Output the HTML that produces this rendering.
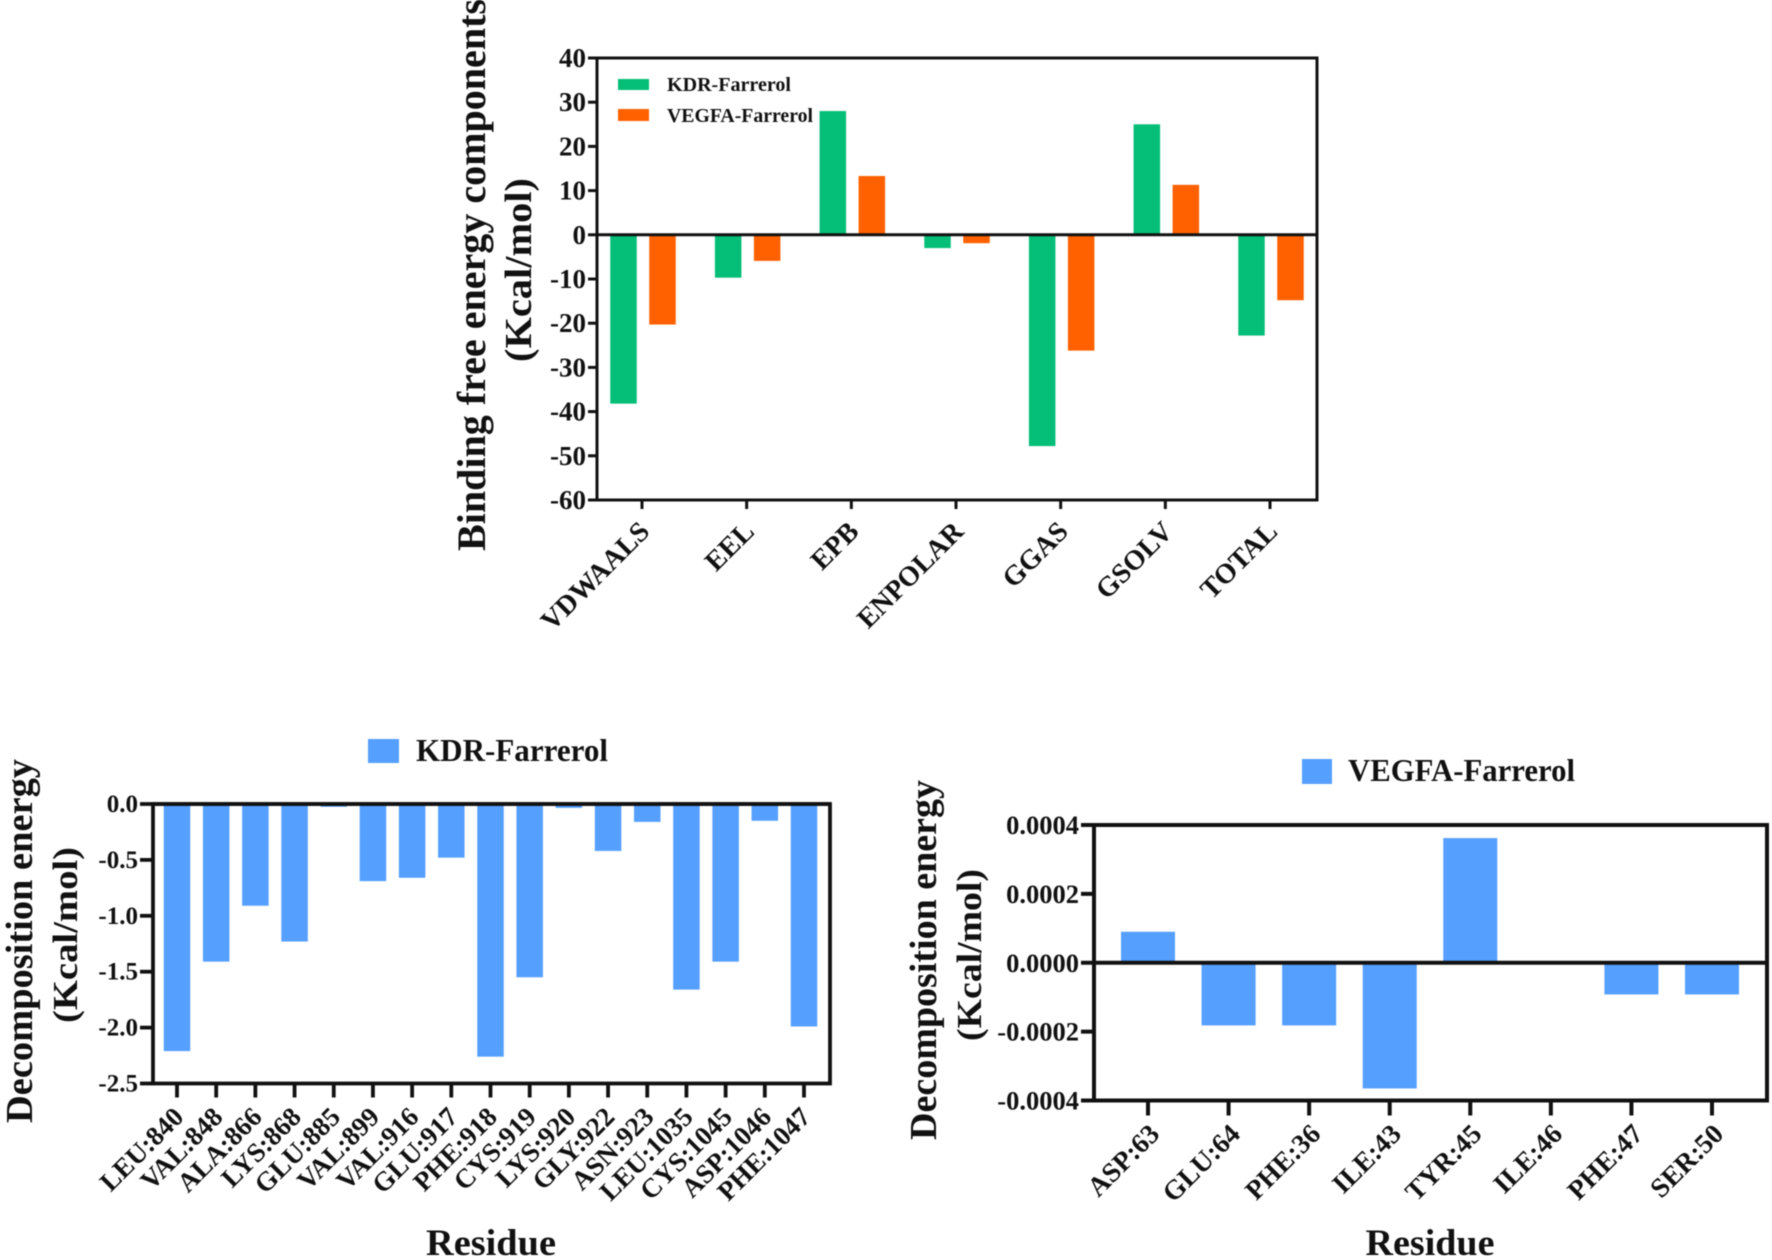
<!DOCTYPE html>
<html lang="en">
<head>
<meta charset="utf-8">
<title>Binding free energy and decomposition energy charts</title>
<style>
html,body{margin:0;padding:0;background:#fff;}
svg{display:block;font-family:"Liberation Serif",serif;font-weight:bold;fill:#111;filter:blur(0.5px);}
</style>
</head>
<body>
<svg id="figure" xmlns="http://www.w3.org/2000/svg" width="1772" height="1260" viewBox="0 0 1772 1260">
  <rect x="0" y="0" width="1772" height="1260" fill="#fff"/>

  <g id="top-chart"></g>
  <g id="kdr-chart"></g>
  <g id="vegfa-chart"></g>

  <text transform="translate(485,275) rotate(-90)" text-anchor="middle" font-size="40" textLength="552" lengthAdjust="spacingAndGlyphs">Binding free energy components</text>
  <text transform="translate(531,270) rotate(-90)" text-anchor="middle" font-size="38" textLength="184" lengthAdjust="spacingAndGlyphs">(Kcal/mol)</text>
  <rect x="618" y="79" width="31" height="11" fill="#05BE78"/>
  <text x="667" y="91" font-size="19.5" textLength="124" lengthAdjust="spacingAndGlyphs">KDR-Farrerol</text>
  <rect x="618" y="109" width="31" height="12" fill="#FF6100"/>
  <text x="667" y="122" font-size="19.5" textLength="146" lengthAdjust="spacingAndGlyphs">VEGFA-Farrerol</text>

  <text transform="translate(32,941) rotate(-90)" text-anchor="middle" font-size="38" textLength="364" lengthAdjust="spacingAndGlyphs">Decomposition energy</text>
  <text transform="translate(77,935) rotate(-90)" text-anchor="middle" font-size="35" textLength="176" lengthAdjust="spacingAndGlyphs">(Kcal/mol)</text>
  <rect x="368" y="739" width="31" height="24" fill="#559FFF"/>
  <text x="416" y="761" font-size="32" textLength="192" lengthAdjust="spacingAndGlyphs">KDR-Farrerol</text>
  <text x="491" y="1255" text-anchor="middle" font-size="37" textLength="130" lengthAdjust="spacingAndGlyphs">Residue</text>

  <text transform="translate(936,960) rotate(-90)" text-anchor="middle" font-size="38" textLength="360" lengthAdjust="spacingAndGlyphs">Decomposition energy</text>
  <text transform="translate(981,955) rotate(-90)" text-anchor="middle" font-size="35" textLength="172" lengthAdjust="spacingAndGlyphs">(Kcal/mol)</text>
  <rect x="1302" y="759" width="30" height="25" fill="#559FFF"/>
  <text x="1348" y="781" font-size="32" textLength="227" lengthAdjust="spacingAndGlyphs">VEGFA-Farrerol</text>
  <text x="1430" y="1255" text-anchor="middle" font-size="37" textLength="129" lengthAdjust="spacingAndGlyphs">Residue</text>
</svg>

<script>
const bindingCategories = ["VDWAALS","EEL","EPB","ENPOLAR","GGAS","GSOLV","TOTAL"];
const bindingKdrValues = [-38.2,-9.7,28,-3,-47.8,25,-22.8];
const bindingVegfaValues = [-20.3,-5.9,13.3,-1.9,-26.2,11.3,-14.8];
const bindingYTicks = ["40","30","20","10","0","-10","-20","-30","-40","-50","-60"];

const kdrResidues = ["LEU:840","VAL:848","ALA:866","LYS:868","GLU:885","VAL:899","VAL:916","GLU:917","PHE:918","CYS:919","LYS:920","GLY:922","ASN:923","LEU:1035","CYS:1045","ASP:1046","PHE:1047"];
const kdrEnergies = [-2.21,-1.41,-0.91,-1.23,-0.025,-0.69,-0.66,-0.48,-2.26,-1.55,-0.035,-0.42,-0.16,-1.66,-1.41,-0.15,-1.99];
const kdrYTicks = ["0.0","-0.5","-1.0","-1.5","-2.0","-2.5"];

const vegfaResidues = ["ASP:63","GLU:64","PHE:36","ILE:43","TYR:45","ILE:46","PHE:47","SER:50"];
const vegfaEnergies = [0.00009,-0.000182,-0.000182,-0.000365,0.000362,0,-0.000092,-0.000092];
const vegfaYTicks = ["0.0004","0.0002","0.0000","-0.0002","-0.0004"];

const NS = "http://www.w3.org/2000/svg";

function make(parent, tag, attrs, text) {
  const node = document.createElementNS(NS, tag);
  for (const key in attrs) node.setAttribute(key, attrs[key]);
  if (text !== undefined) node.textContent = text;
  parent.appendChild(node);
  return node;
}

function linearAxis(domainMax, domainMin, top, bottom) {
  return function (v) { return top + (domainMax - v) / (domainMax - domainMin) * (bottom - top); };
}

function bandAxis(count, first, last) {
  return function (i) { return first + i * (last - first) / (count - 1); };
}

function drawBar(group, name, cx, width, y0, yv, color) {
  const bar = make(group, "rect", {
    x: cx - width / 2,
    y: Math.min(y0, yv),
    width: width,
    height: Math.abs(yv - y0),
    fill: color
  });
  
  
}

function drawFrame(group, o, yScale, xScale, yTicks, categories, zeroValue) {
  const frame = make(group, "rect", {
    x: o.left, y: o.top, width: o.right - o.left, height: o.bottom - o.top,
    fill: "none", stroke: "#111", "stroke-width": o.stroke
  });
  
  

  const zero = make(group, "line", {
    x1: o.left, x2: o.right, y1: yScale(zeroValue), y2: yScale(zeroValue),
    stroke: "#111", "stroke-width": o.stroke
  });
  
  

  yTicks.forEach(function (label) {
    const y = yScale(parseFloat(label));
    const tick = make(group, "line", {
      x1: o.left - o.tickLen, x2: o.left, y1: y, y2: y,
      stroke: "#111", "stroke-width": o.stroke
    });
    
    
    const text = make(group, "text", {
      x: o.left - o.tickLen - 2, y: y + o.yLabelDy,
      "text-anchor": "end", "font-size": o.yFont
    }, label);
    
    
  });

  categories.forEach(function (label, i) {
    const x = xScale(i);
    const tick = make(group, "line", {
      x1: x, x2: x, y1: o.bottom, y2: o.bottom + o.xTickLen,
      stroke: "#111", "stroke-width": o.stroke
    });
    
    
    const text = make(group, "text", {
      transform: "translate(" + (x + o.xLabelDx) + "," + (o.bottom + o.xLabelDy) + ") rotate(-45)",
      "text-anchor": "end", "font-size": o.xFont
    }, label);
    
    
  });
}

/* Top chart: binding free energy components */
(function () {
  const group = document.getElementById("top-chart");
  const o = { left: 597, right: 1317, top: 58, bottom: 500, stroke: 3, tickLen: 9, xTickLen: 9,
              yFont: 27, yLabelDy: 9, xFont: 28, xLabelDx: 9, xLabelDy: 33 };
  const y = linearAxis(40, -60, o.top, o.bottom);
  const x = bandAxis(bindingCategories.length, 642, 1270);
  bindingCategories.forEach(function (c, i) {
    drawBar(group, "bar-kdr-" + c.toLowerCase(), x(i) - 18.5, 26.5, y(0), y(bindingKdrValues[i]), "#05BE78");
    drawBar(group, "bar-vegfa-" + c.toLowerCase(), x(i) + 20.5, 26.5, y(0), y(bindingVegfaValues[i]), "#FF6100");
  });
  drawFrame(group, o, y, x, bindingYTicks, bindingCategories, 0);
})();

/* Bottom-left chart: KDR decomposition */
(function () {
  const group = document.getElementById("kdr-chart");
  const o = { left: 153, right: 830, top: 804, bottom: 1083.5, stroke: 3.8, tickLen: 13, xTickLen: 14,
              yFont: 25, yLabelDy: 8, xFont: 27, xLabelDx: 8, xLabelDy: 35 };
  const y = linearAxis(0, -2.5, o.top, o.bottom);
  const x = bandAxis(kdrResidues.length, 177, 804);
  kdrResidues.forEach(function (c, i) {
    drawBar(group, "bar-" + c.replace(":", "-").toLowerCase(), x(i), 26.5, y(0), y(kdrEnergies[i]), "#559FFF");
  });
  drawFrame(group, o, y, x, kdrYTicks, kdrResidues, 0);
})();

/* Bottom-right chart: VEGFA decomposition */
(function () {
  const group = document.getElementById("vegfa-chart");
  const o = { left: 1094, right: 1767, top: 825, bottom: 1100.5, stroke: 4, tickLen: 13, xTickLen: 15,
              yFont: 26.5, yLabelDy: 9, xFont: 27.5, xLabelDx: 13, xLabelDy: 35 };
  const y = linearAxis(0.0004, -0.0004, o.top, o.bottom);
  const x = bandAxis(vegfaResidues.length, 1148, 1712);
  vegfaResidues.forEach(function (c, i) {
    drawBar(group, "bar-" + c.replace(":", "-").toLowerCase(), x(i), 54, y(0), y(vegfaEnergies[i]), "#559FFF");
  });
  drawFrame(group, o, y, x, vegfaYTicks, vegfaResidues, 0);
})();
</script>
</body>
</html>
